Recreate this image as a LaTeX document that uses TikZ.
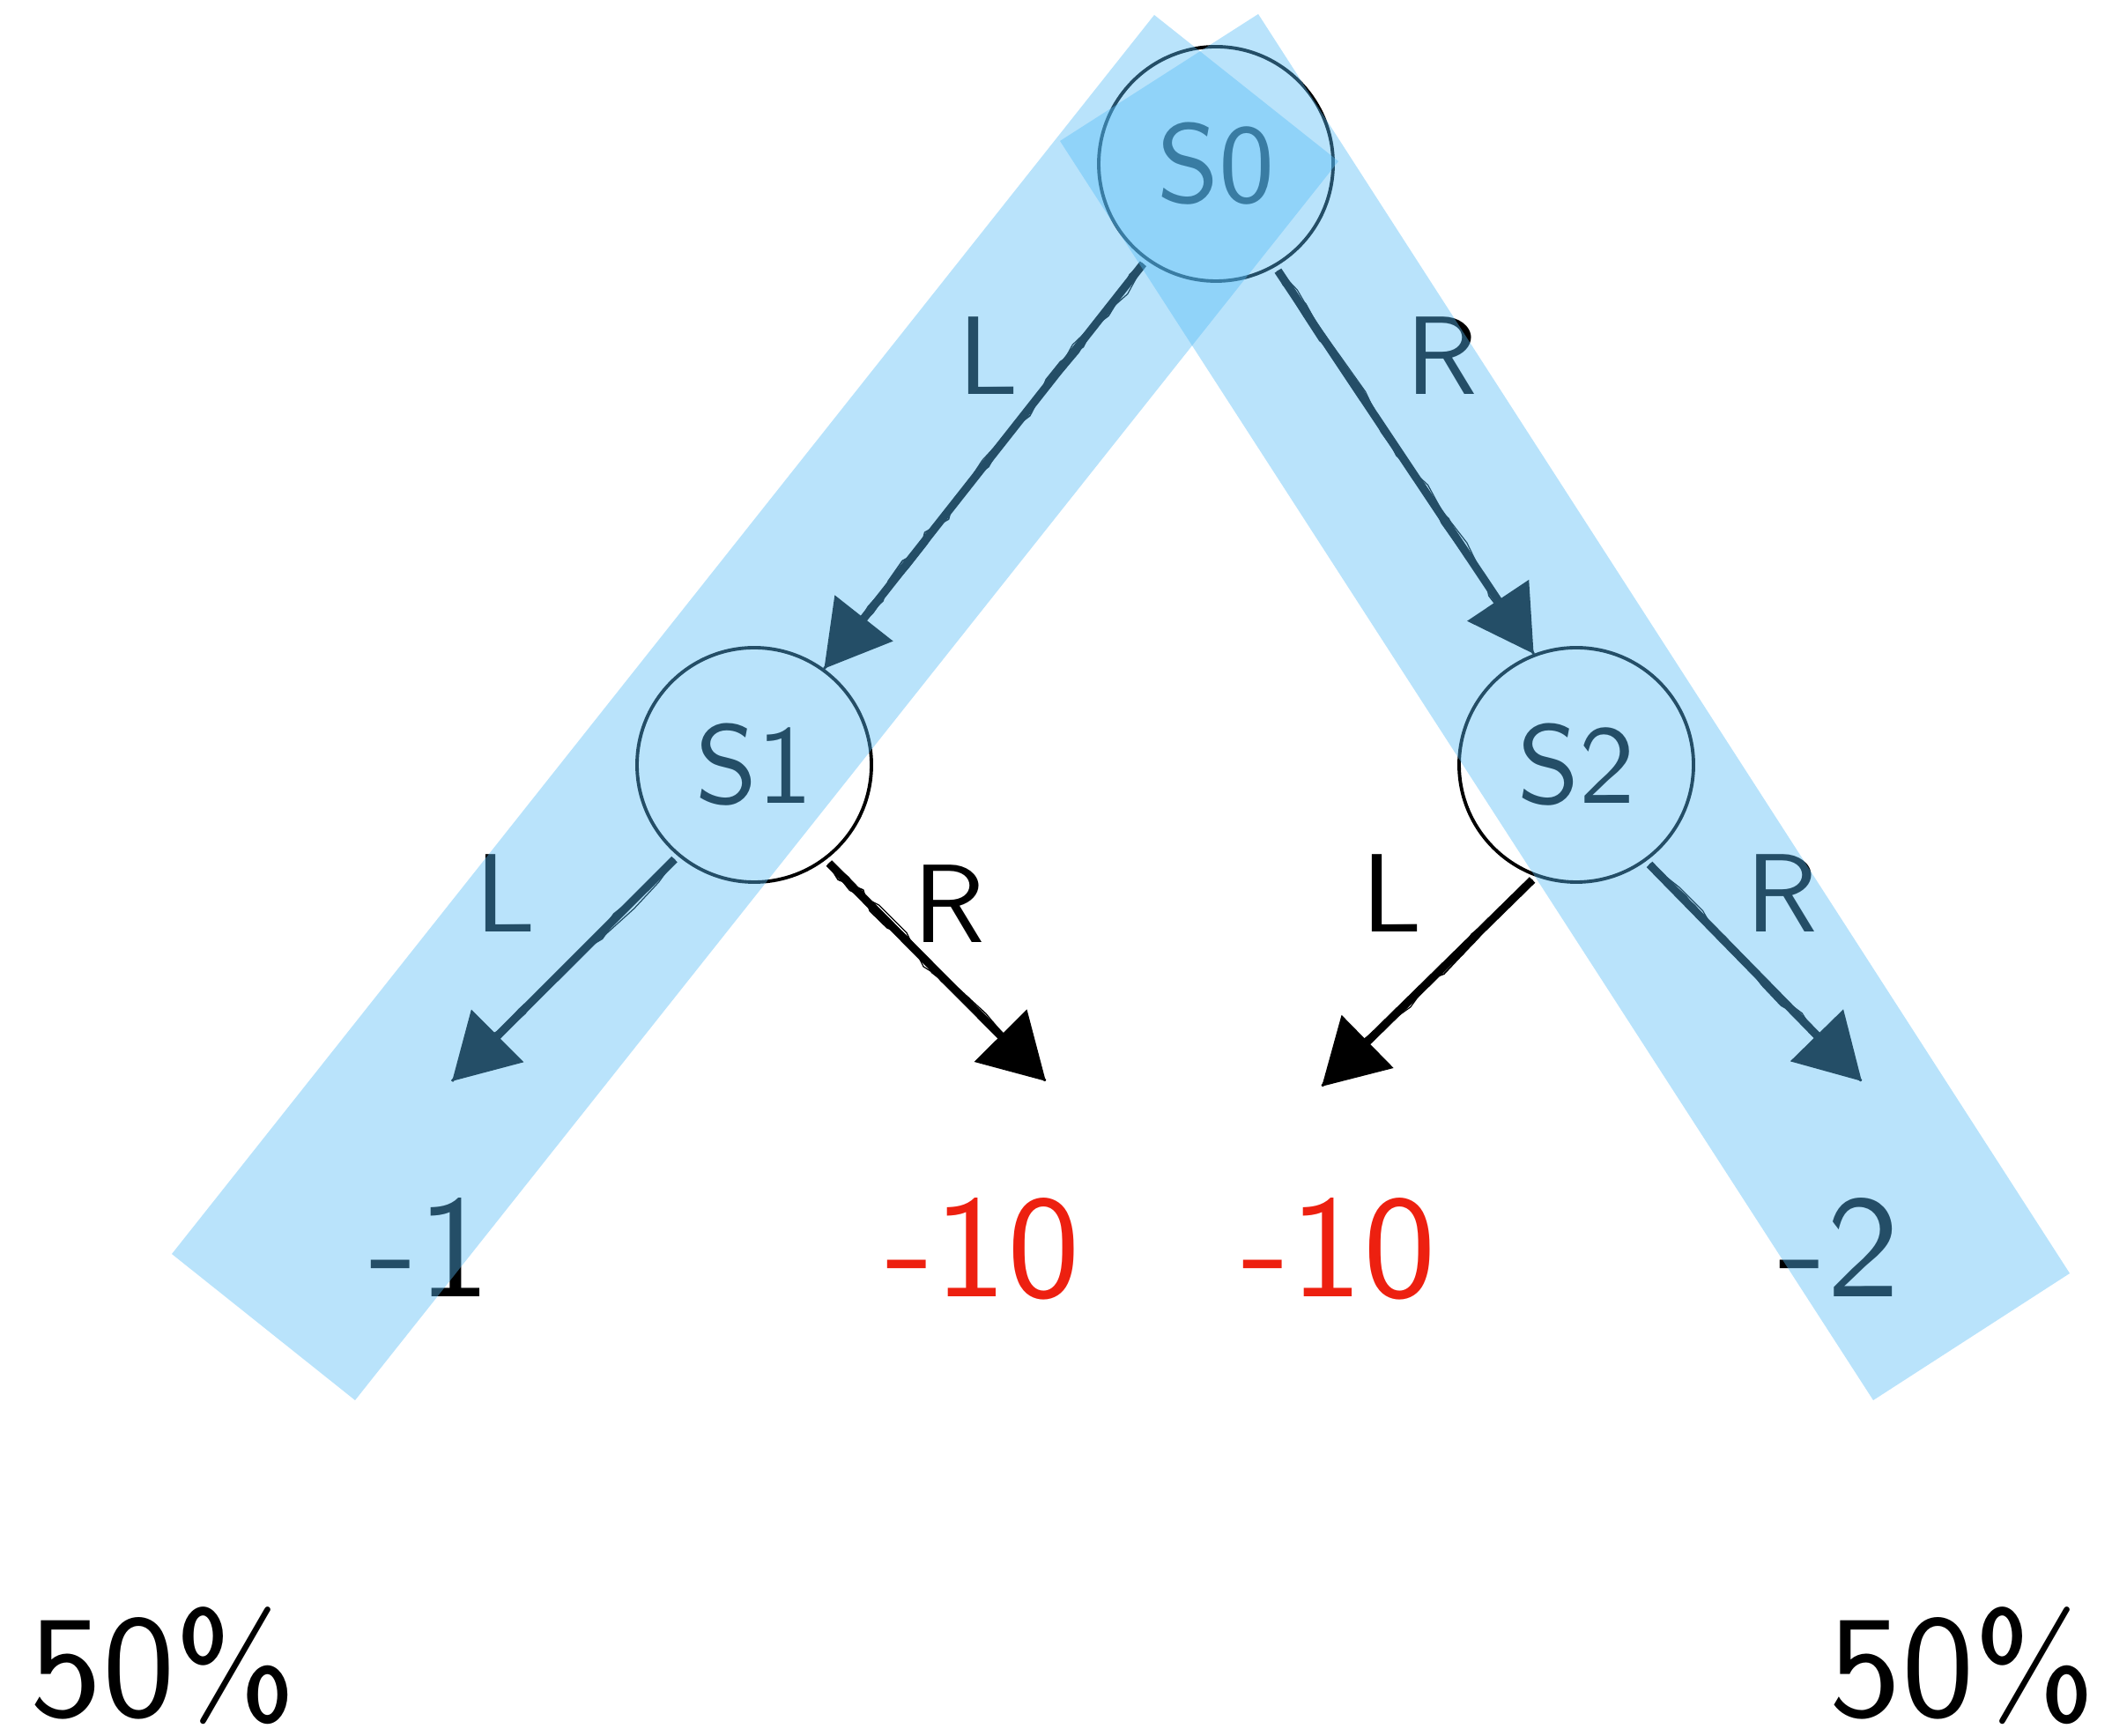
\documentclass[tikz,border=0pt]{standalone}
\usepackage{xcolor}
\usepackage{tikz}
\usetikzlibrary{arrows.meta,decorations.pathmorphing}
\definecolor{bandblue}{RGB}{87,188,246}
\definecolor{leafred}{RGB}{237,32,16}
\font\statefont=cmss10 at 36pt
\font\leaffont=cmss10 at 47pt
\tikzset{
  statenode/.style={draw=black, circle, line width=1.1pt, minimum size=2.66cm, inner sep=0pt, font=\statefont},
  edgelabel/.style={anchor=base, inner sep=0pt, font=\statefont},
  leaflabel/.style={anchor=base, inner sep=0pt, font=\leaffont},
  sketcharrow/.style={-{Triangle[length=0.73cm,width=0.82cm]}, line width=2.6pt, shorten <=1.5pt,
    postaction={draw, -, decorate, decoration={random steps, segment length=9pt, amplitude=1.2pt}, line width=0.8pt},
    postaction={draw, -, decorate, decoration={random steps, segment length=7pt, amplitude=1.7pt}, line width=0.5pt},
    postaction={draw, -, decorate, decoration={random steps, segment length=12pt, amplitude=2.1pt}, line width=0.35pt}},
  band/.style={fill=bandblue, fill opacity=0.42}
}

\begin{document}
\begin{tikzpicture}[x=1cm,y=1cm]
  \pgfmathsetseed{7}
  \useasboundingbox (0,0) rectangle (23.97,19.69);

  \node[statenode] (S0) at (13.80,17.83) {S0};
  \node[statenode] (S1) at (8.56,11.01) {S1};
  \node[statenode] (S2) at (17.89,11.01) {S2};

  \node[edgelabel] (lab0L) at (11.22,15.21) {L};
  \node[edgelabel] (lab0R) at (16.36,15.21) {R};
  \node[edgelabel] (lab1L) at (5.74,9.11) {L};
  \node[edgelabel] (lab1R) at (10.77,8.99) {R};
  \node[edgelabel] (lab2L) at (15.80,9.11) {L};
  \node[edgelabel] (lab2R) at (20.22,9.11) {R};

  \node[leaflabel] (leaf1) at (4.88,4.97) {-1};
  \node[leaflabel, text=leafred] (leaf2) at (11.16,4.97) {-10};
  \node[leaflabel, text=leafred] (leaf3) at (15.20,4.97) {-10};
  \node[leaflabel] (leaf4) at (20.87,4.97) {-2};

  \node[leaflabel] (pctL) at (1.85,0.22) {50\%};
  \node[leaflabel] (pctR) at (22.27,0.22) {50\%};

  \coordinate (tip1L) at (5.13,7.42);
  \coordinate (tip1R) at (11.87,7.42);
  \coordinate (tip2L) at (15.00,7.36);
  \coordinate (tip2R) at (21.13,7.42);

  \draw[sketcharrow] (S0.234) -- (S1.54);
  \draw[sketcharrow] (S0.300) -- (S2.111);
  \draw[sketcharrow] (S1.230) -- (tip1L);
  \draw[sketcharrow] (S1.307) -- (tip1R);
  \draw[sketcharrow] (S2.250) -- (tip2L);
  \draw[sketcharrow] (S2.306) -- (tip2R);

  % highlighted paths
  \fill[band] (13.10,19.52) -- (15.19,17.86) -- (4.03,3.80) -- (1.95,5.46) -- cycle;
  \fill[band] (14.28,19.53) -- (12.03,18.09) -- (21.26,3.80) -- (23.49,5.24) -- cycle;
\end{tikzpicture}
\end{document}
